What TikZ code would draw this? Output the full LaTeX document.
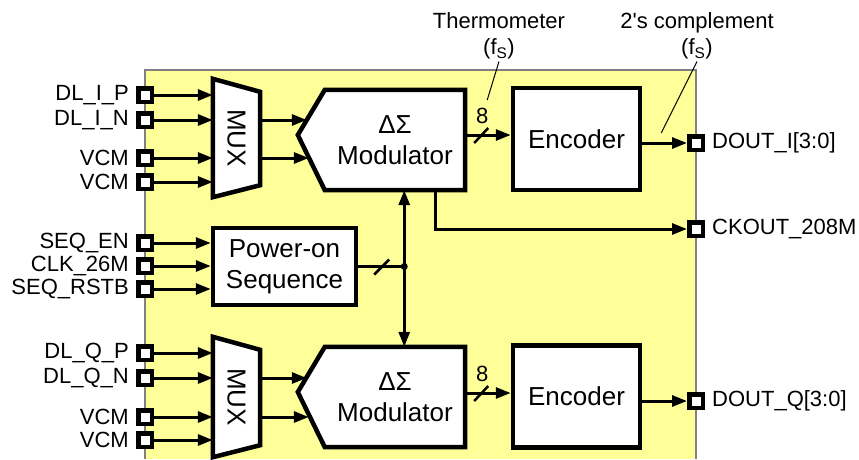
\documentclass[tikz,border=0pt]{standalone}
\usepackage{fontspec}
\setmainfont{Liberation Sans}
\usetikzlibrary{positioning,arrows.meta,calc,backgrounds}

\definecolor{chipyellow}{HTML}{FFFF99}
\definecolor{chipedge}{HTML}{808080}

\begin{document}
\begin{tikzpicture}[
    x=1pt, y=-1pt,
    blk/.style={draw, line width=4.5pt, fill=white, align=center, font=\fontsize{26}{31}\selectfont},
    shapetxt/.style={align=center, inner sep=0pt, font=\fontsize{26}{31}\selectfont},
    pad/.style={draw, line width=4.5pt, fill=white, minimum size=13.5pt, inner sep=0pt},
    padlbl/.style={inner sep=1pt, font=\fontsize{22}{26}\selectfont},
    lpad/.style={padlbl, xshift=-6pt},
    rpad/.style={padlbl, xshift=6pt},
    lbl/.style={inner sep=2pt, align=center, font=\fontsize{22}{26}\selectfont},
    wire/.style={line width=3pt},
    arr/.style={-{Triangle[length=15pt,width=11pt]}, line width=3pt},
    biarr/.style={{Triangle[length=15pt,width=11pt]}-{Triangle[length=15pt,width=11pt]}, line width=3pt},
    tick/.style={line width=2.5pt},
    lead/.style={line width=1pt},
]
\useasboundingbox (0,0) rectangle (859,459);

% ===== INPUT PADS =====
\node[pad, label={[lpad]left:DL\_I\_P}] (pIP) at (145,95) {};
\node[pad, label={[lpad]left:DL\_I\_N}] (pIN) at (145,120) {};
\node[pad, label={[lpad]left:VCM}] (pV1) at (145,158) {};
\node[pad, label={[lpad]left:VCM}] (pV2) at (145,182) {};
\node[pad, label={[lpad]left:SEQ\_EN}] (pEN) at (145,243) {};
\node[pad, label={[lpad]left:CLK\_26M}] (pCLK) at (145,266) {};
\node[pad, label={[lpad]left:SEQ\_RSTB}] (pRST) at (145,289) {};
\node[pad, label={[lpad]left:DL\_Q\_P}] (pQP) at (145,353) {};
\node[pad, label={[lpad]left:DL\_Q\_N}] (pQN) at (145,378) {};
\node[pad, label={[lpad]left:VCM}] (pV3) at (145,417) {};
\node[pad, label={[lpad]left:VCM}] (pV4) at (145,440) {};

% ===== OUTPUT PADS =====
\node[pad, label={[rpad]right:DOUT\_I[3:0]}] (pDI) at (696,143) {};
\node[pad, label={[rpad]right:CKOUT\_208M}] (pCK) at (696,229) {};
\node[pad, label={[rpad]right:DOUT\_Q[3:0]}] (pDQ) at (696,401) {};

% ===== BLOCKS =====
\node[shapetxt, minimum width=47pt, minimum height=118pt] (muxT) at (236.5,138) {\rotatebox{-90}{MUX}};
\node[shapetxt, minimum width=47pt, minimum height=120pt] (muxB) at (236.5,397) {\rotatebox{-90}{MUX}};
\node[shapetxt, minimum width=140pt, minimum height=100pt] (modT) at (395,140) {ΔΣ\\Modulator};
\node[shapetxt, minimum width=140pt, minimum height=100pt] (modB) at (395,397) {ΔΣ\\Modulator};
\node[blk, minimum width=127pt, minimum height=102pt] (encT) at (576.5,139) {Encoder};
\node[blk, minimum width=127pt, minimum height=102pt] (encB) at (576.5,396.5) {Encoder};
\node[blk, minimum width=143pt, minimum height=77pt] (pwr) at (284.5,266.5) {Power-on\\Sequence};

\begin{scope}[on background layer]
\fill[chipyellow] (145,70) rectangle (696,459);
\draw[chipedge, line width=1.2pt] (145,459) |- (696,70) -- (696,459);
\draw[blk] (muxT.north west) -- ($(muxT.north east)+(0,13)$) -- ($(muxT.south east)+(0,-12)$) -- (muxT.south west) -- cycle;
\draw[blk] (muxB.north west) -- ($(muxB.north east)+(0,13)$) -- ($(muxB.south east)+(0,-12)$) -- (muxB.south west) -- cycle;
\draw[blk] (modT.north west) -- (modT.north east) -- (modT.south east) -- (modT.south west) -- ($(modT.west)+(-27,-5)$) -- cycle;
\draw[blk] (modB.north west) -- (modB.north east) -- (modB.south east) -- (modB.south west) -- ($(modB.west)+(-27,-5)$) -- cycle;
\end{scope}

% ===== LABELS =====
\node[lbl] (thermo) at (499,36) {Thermometer\\(f\textsubscript{S})};
\node[lbl] (cmpl) at (697,36) {2\textquotesingle s complement\\(f\textsubscript{S})};

% ===== ARROWS =====
\draw[arr] (pIP.east) -- (pIP -| muxT.west);
\draw[arr] (pIN.east) -- (pIN -| muxT.west);
\draw[arr] (pV1.east) -- (pV1 -| muxT.west);
\draw[arr] (pV2.east) -- (pV2 -| muxT.west);
\draw[arr] (pQP.east) -- (pQP -| muxB.west);
\draw[arr] (pQN.east) -- (pQN -| muxB.west);
\draw[arr] (pV3.east) -- (pV3 -| muxB.west);
\draw[arr] (pV4.east) -- (pV4 -| muxB.west);
\draw[arr] (pEN.east) -- (pEN -| pwr.west);
\draw[arr] (pCLK.east) -- (pCLK -| pwr.west);
\draw[arr] (pRST.east) -- (pRST -| pwr.west);

\draw[arr] (muxT.east |- pIN) -- ($(modT.west |- pIN)+(-18,0)$);
\draw[arr] (muxT.east |- pV1) -- ($(modT.west |- pV1)+(-16,0)$);
\draw[arr] (muxB.east |- pQN) -- ($(modB.west |- pQN)+(-18,0)$);
\draw[arr] (muxB.east |- pV3) -- ($(modB.west |- pV3)+(-16,0)$);

\coordinate (dT) at ($(modT.east)+(0,-5)$);
\coordinate (dB) at ($(modB.east)+(0,-4)$);
\draw[arr] (dT) -- (dT -| encT.west);
\draw[arr] (dB) -- (dB -| encB.west);
\draw[tick] ($(dT)+(9,8)$) -- ++(14,-15);
\draw[tick] ($(dB)+(9,8)$) -- ++(14,-15);
\node[lbl] (nT) at ($(dT)+(17,-19)$) {8};
\node[lbl] (nB) at ($(dB)+(17,-19)$) {8};

\draw[arr] (encT.east |- pDI) -- (pDI.west);
\draw[arr] (encB.east |- pDQ) -- (pDQ.west);
\draw[arr] ($(modT.south)+(40,0)$) |- (pCK.west);

\coordinate (busJ) at ($(pwr.east)+(46,0)$);
\draw[biarr] (modT.south -| busJ) -- (modB.north -| busJ);
\draw[wire] (pwr.east) -- (busJ);
\draw[tick] ($(pwr.east)+(16,8)$) -- ++(15,-15);
\fill (busJ) circle (3.5);

\draw[lead] (thermo.south) -- ($(nT)+(5,-16)$);
\draw[lead] (cmpl.south) -- ($(encT.east |- pDI)+(19,-10)$);

\end{tikzpicture}
\end{document}
